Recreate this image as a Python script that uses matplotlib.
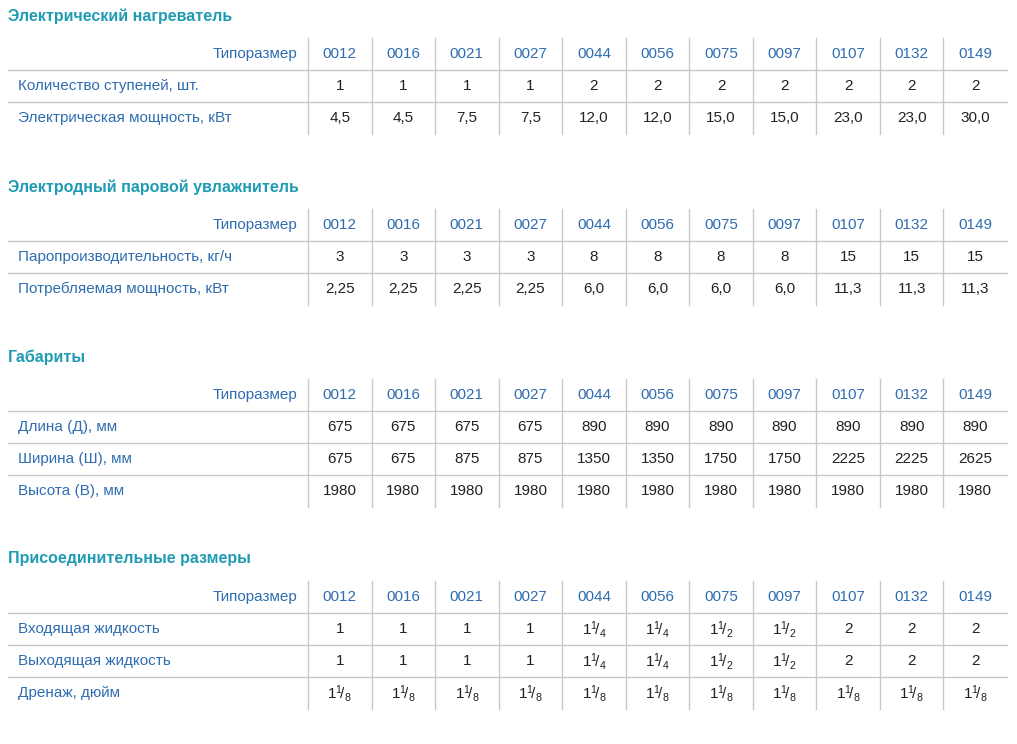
import matplotlib
matplotlib.use("Agg")
import matplotlib.pyplot as plt

plt.rcParams["font.family"] = ["Liberation Sans", "DejaVu Sans"]
plt.rcParams["mathtext.fontset"] = "custom"
plt.rcParams["mathtext.rm"] = "Liberation Sans"
plt.rcParams["mathtext.it"] = "Liberation Sans"
plt.rcParams["mathtext.default"] = "rm"

sizes = ["0012", "0016", "0021", "0027", "0044", "0056", "0075", "0097", "0107", "0132", "0149"]

heater_title = "Электрический нагреватель"
heater_rows = ["Количество ступеней, шт.", "Электрическая мощность, кВт"]
heater_steps = ["1", "1", "1", "1", "2", "2", "2", "2", "2", "2", "2"]
heater_power = ["4,5", "4,5", "7,5", "7,5", "12,0", "12,0", "15,0", "15,0", "23,0", "23,0", "30,0"]

hum_title = "Электродный паровой увлажнитель"
hum_rows = ["Паропроизводительность, кг/ч", "Потребляемая мощность, кВт"]
hum_capacity = ["3", "3", "3", "3", "8", "8", "8", "8", "15", "15", "15"]
hum_power = ["2,25", "2,25", "2,25", "2,25", "6,0", "6,0", "6,0", "6,0", "11,3", "11,3", "11,3"]

dim_title = "Габариты"
dim_rows = ["Длина (Д), мм", "Ширина (Ш), мм", "Высота (В), мм"]
dim_length = ["675", "675", "675", "675", "890", "890", "890", "890", "890", "890", "890"]
dim_width = ["675", "675", "875", "875", "1350", "1350", "1750", "1750", "2225", "2225", "2625"]
dim_height = ["1980"] * 11

con_title = "Присоединительные размеры"
con_rows = ["Входящая жидкость", "Выходящая жидкость", "Дренаж, дюйм"]
con_in = ["1", "1", "1", "1", "1 1/4", "1 1/4", "1 1/2", "1 1/2", "2", "2", "2"]
con_out = ["1", "1", "1", "1", "1 1/4", "1 1/4", "1 1/2", "1 1/2", "2", "2", "2"]
con_drain = ["1 1/8"] * 11

sections = [
    (heater_title, heater_rows, [heater_steps, heater_power], 16),
    (hum_title, hum_rows, [hum_capacity, hum_power], 187),
    (dim_title, dim_rows, [dim_length, dim_width, dim_height], 357),
    (con_title, con_rows, [con_in, con_out, con_drain], 559),
]

TEAL = "#1f9bb3"
BLUE = "#2f6db0"
DARK = "#222222"
GRID = "#c8c8c8"

fig = plt.figure(figsize=(10.17, 7.44), dpi=100)
ax = fig.add_axes([0, 0, 1, 1])
ax.set_xlim(0, 1017)
ax.set_ylim(744, 0)
ax.axis("off")

x0, xl, xr = 8, 308, 1007
cw = (xr - xl) / len(sizes)
rh = 32

def fmt(v):
    if " " in v:
        w, f = v.split(" ")
        n, d = f.split("/")
        return w + r"$^{%s}\!/_{%s}$" % (n, d)
    return v

for title, rows, vals, ty in sections:
    ax.text(x0, ty, title, color=TEAL, fontsize=11.5, fontweight="bold", va="center", ha="left")
    top = ty + 22
    hy = top + rh / 2
    ax.text(xl - 11, hy, "Типоразмер", color=BLUE, fontsize=11, va="center", ha="right")
    for i, s in enumerate(sizes):
        ax.text(xl + cw * (i + 0.5), hy, s, color=BLUE, fontsize=11, va="center", ha="center")
    bottom = top + rh * (len(rows) + 1)
    for i in range(len(sizes)):
        ax.plot([xl + cw * i] * 2, [top, bottom], color=GRID, lw=1)
    for r, (lab, rv) in enumerate(zip(rows, vals)):
        ly = top + rh * (r + 1)
        ax.plot([x0, xr], [ly, ly], color=GRID, lw=1)
        cy = ly + rh / 2
        ax.text(x0 + 10, cy, lab, color=BLUE, fontsize=11, va="center", ha="left")
        for i, v in enumerate(rv):
            ax.text(xl + cw * (i + 0.5), cy, fmt(v), color=DARK, fontsize=11,
                    va="center", ha="center")

fig.savefig("out.png", dpi=100, facecolor="white")
